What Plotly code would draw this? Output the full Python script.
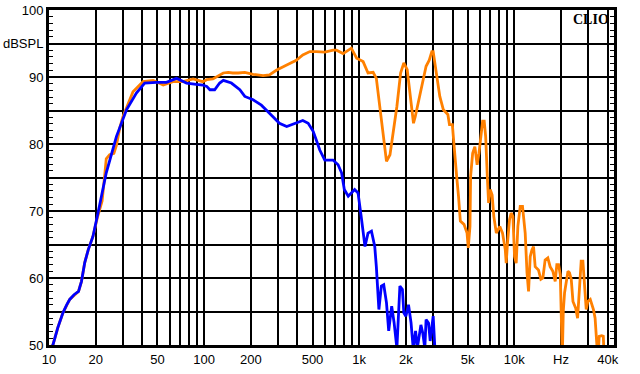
import plotly.graph_objects as go

# ---------------- data ----------------
blue_freq = [10, 10.6, 11.4, 12.3, 13.0, 13.6, 14.5, 15.5, 16.2, 17.0, 17.9, 19.2, 20.7,
             23.4, 27.2, 31.6, 36.6, 41.4, 49.3, 57.2, 66.4, 77, 89, 98, 104, 109, 117,
             126, 133, 150, 170, 183, 207, 234, 264, 306, 341, 393, 433, 469, 505, 529,
             557, 600, 678, 731, 770, 802, 850, 935, 983, 1030, 1090, 1140, 1200, 1260,
             1290, 1340, 1390, 1440, 1500, 1550, 1620, 1680, 1750, 1830, 1900, 1940,
             2000, 2080, 2160, 2230, 2310, 2370, 2500, 2570, 2650, 2700, 2800, 2870,
             2960, 3000, 3100]
blue_db = [49.3, 50.0, 52.6, 54.8, 56.0, 56.8, 57.5, 58.0, 59.5, 62.3, 64.2, 66.2, 69.7,
           75.7, 81.1, 85.1, 87.6, 89.1, 89.2, 89.2, 89.8, 89.1, 88.9, 88.8, 88.6, 88.1, 88.1,
           89.1, 89.5, 89.1, 88.1, 87.1, 86.6, 85.8, 84.6, 83.1, 82.6, 83.1, 83.5, 83.1, 81.9, 80.6,
           79.1, 77.6, 77.6, 76.9, 75.7, 73.2, 72.2, 73.2, 72.7, 69.2, 64.7, 66.7, 67.0, 64.7,
           61.7, 55.3, 58.8, 59.0, 56.3, 52.1, 55.8, 53.3, 49.5, 58.8, 58.3, 54.8,
           54.3, 56.0, 53.3, 49.5, 52.1, 49.5, 53.0, 51.8, 49.5, 53.8, 53.3, 50.6,
           53.8, 54.3, 48.0]

orange_freq = [10, 10.6, 11.4, 12.3, 13.6, 15.5, 16.2, 17.0, 17.9, 19.2, 20.5, 22.0, 22.9,
               23.4, 24.6, 26.2, 27.2, 28.6, 30, 34.8, 40.4, 46.9, 54.5, 63, 73, 85, 98,
               104, 114, 126, 133, 143, 153, 166, 183, 207, 240, 264, 292, 341, 393, 433,
               481, 529, 600, 680, 714, 788, 890, 963, 1060, 1140, 1230, 1290, 1350, 1420,
               1500, 1580, 1660, 1750, 1850, 1940, 2040, 2140, 2240, 2300, 2450, 2570,
               2700, 2830, 2940, 3000, 3160, 3310, 3490, 3730, 3820, 3990, 4030, 4150,
               4250, 4370, 4490, 4740, 4960, 5050, 5180, 5230, 5390, 5570, 5760, 5920,
               6100, 6250, 6400, 6540, 6700, 6830, 7000, 7200, 7380, 7660, 8070, 8400,
               8750, 8870, 9040, 9320, 9550, 9800, 10040, 10290, 10550, 10920, 11300,
               11760, 12080, 12360, 12670, 12990, 13310, 13640, 14320, 14840, 15290,
               15810, 16450, 17030, 17730, 18360, 18810, 19300, 19800, 20100, 20400,
               20700, 21100, 21600, 22200, 22700, 23300, 23900, 24900, 25600, 26400,
               27000, 27700, 28400, 29100, 29800, 30900, 32400, 33200, 34000, 34600,
               35300, 36600, 37500, 38000, 39000]
orange_db = [49.3, 50.0, 52.6, 54.8, 56.8, 58.0, 59.5, 62.3, 64.2, 66.2, 69.0, 71.5, 75.5,
             77.8, 78.4, 78.6, 79.8, 82.4, 84.1, 87.8, 89.3, 89.5, 88.8, 89.3, 89.3, 89.7, 89.3,
             89.6, 89.7, 90.3, 90.6, 90.7, 90.6, 90.6, 90.7, 90.4, 90.2, 90.3, 91.0, 91.8, 92.5, 93.3,
             93.8, 93.8, 93.7, 94.0, 94.0, 93.5, 94.3, 92.8, 92.3, 90.6, 90.7, 89.8, 86.1, 81.6,
             77.4, 78.4, 82.1, 85.6, 90.6, 92.1, 91.1, 87.1, 83.1, 84.1, 87.1, 89.6,
             91.6, 92.5, 93.8, 93.8, 90.6, 87.1, 85.1, 84.4, 82.9, 82.9, 81.6, 77.6,
             75.2, 72.2, 68.5, 68.0, 66.7, 64.5, 67.7, 75.2, 78.6, 79.6, 76.9, 78.6,
             81.6, 83.4, 83.4, 81.1, 75.2, 71.2, 73.2, 72.4, 69.2, 66.7, 67.7, 66.7,
             64.2, 62.2, 65.2, 68.7, 69.7, 69.2, 63.2, 62.2, 67.7, 70.7, 70.7,
             66.7, 60.8, 58.0, 63.2, 64.2, 64.7, 61.7, 61.2, 59.8, 60.0,
             62.7, 63.0, 61.7, 61.0, 59.5, 62.0, 62.0, 60.5, 48.0, 48.0,
             55.0, 57.8, 59.3, 61.0, 60.8, 59.8, 56.5, 55.5, 54.0, 59.3,
             62.5, 62.5, 58.8, 55.3, 56.5, 56.8, 55.3, 54.0, 50.4, 48.0,
             51.3, 51.4, 51.3, 48.0, 48.0]

x_grid = [10, 20, 30, 40, 50, 60, 70, 80, 90,
          100, 200, 300, 400, 500, 600, 700, 800, 900,
          1000, 2000, 3000, 4000, 5000, 6000, 7000, 8000, 9000,
          10000, 20000, 30000, 40000]
x_labels = {10: "10", 20: "20", 50: "50", 100: "100", 200: "200", 500: "500",
            1000: "1k", 2000: "2k", 5000: "5k", 10000: "10k", 20000: "Hz", 40000: "40k"}
y_ticks = [50, 55, 60, 65, 70, 75, 80, 85, 90, 95, 100]
y_labels = ["50", "", "60", "", "70", "", "80", "", "90", "dBSPL", "100"]
y_minor = list(range(50, 101))

# ---------------- figure ----------------
fig = go.Figure()
fig.add_trace(go.Scatter(x=orange_freq, y=orange_db, mode="lines",
                         line=dict(color="#ff8000", width=2.8), showlegend=False,
                         hoverinfo="skip"))
fig.add_trace(go.Scatter(x=blue_freq, y=blue_db, mode="lines", yaxis="y2",
                         line=dict(color="#0000ff", width=2.8), showlegend=False,
                         hoverinfo="skip"))

font = dict(family="Liberation Sans, Arial, sans-serif", size=13, color="black")

fig.update_layout(
    width=640, height=374,
    margin=dict(l=49, r=26, t=10, b=29),
    paper_bgcolor="white", plot_bgcolor="white",
    font=font,
    showlegend=False,
    hovermode=False,
    xaxis=dict(type="log", range=[1, 4.643], automargin=False,
               tickmode="array", tickvals=x_grid,
               ticktext=[x_labels.get(v, "") for v in x_grid],
               showgrid=True, gridcolor="black", gridwidth=2,
               showline=True, linecolor="black", linewidth=3, mirror=True,
               ticks="", zeroline=False, tickfont=font),
    yaxis=dict(range=[50, 100], automargin=False,
               tickmode="array", tickvals=y_ticks, ticktext=y_labels,
               showgrid=True, gridcolor="black", gridwidth=2,
               showline=True, linecolor="black", linewidth=3, mirror=True,
               ticks="", zeroline=False, tickfont=font),
    yaxis2=dict(range=[50, 100], automargin=False, overlaying="y", anchor="x", side="left",
                tickmode="array", tickvals=y_minor, showticklabels=False,
                showgrid=False, zeroline=False,
                showline=True, linecolor="black", linewidth=3, mirror="allticks",
                ticks="inside", ticklen=4, tickwidth=1, tickcolor="black"),
    annotations=[dict(text="<b>CLIO</b>", xref="paper", yref="paper", x=1, y=1,
                      xanchor="right", yanchor="top", showarrow=False, xshift=-3, yshift=0,
                      font=dict(family="Liberation Serif, Times New Roman, serif",
                                size=14, color="black"))],
    shapes=[dict(type="rect", xref="paper", yref="y", x0=0.0425, x1=0.0513, y0=74.5, y1=75.5,
                 fillcolor="white", line=dict(width=0), layer="between"),
            dict(type="rect", xref="paper", yref="y", x0=0.0602, x1=0.0673, y0=74.5, y1=75.5,
                 fillcolor="white", line=dict(width=0), layer="between")],
)

fig.write_html("out.html", config={"displayModeBar": False},
               post_script="document.body.style.margin='0px';")
